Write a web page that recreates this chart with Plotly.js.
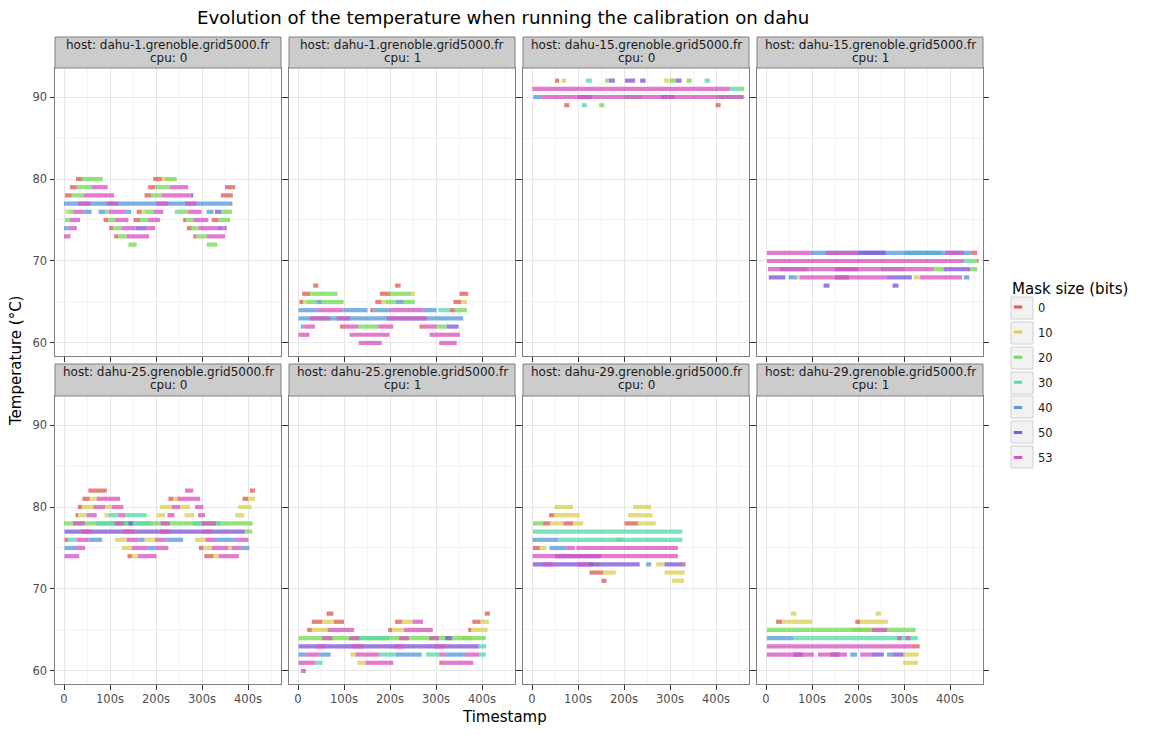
<!DOCTYPE html>
<html>
<head>
<meta charset="utf-8">
<script src="https://cdn.plot.ly/plotly-3.0.1.min.js"></script>
<style>html,body{margin:0;padding:0;background:#fff;}#chart{width:1156px;height:735px;}</style>
</head>
<body>
<div id="chart"></div>
<script>
// ---------------- DATA ----------------
const masks = [0, 10, 20, 30, 40, 50, 53];
const maskColors = ['#DB5F57', '#DBD057', '#75DB57', '#57DBAB', '#579BDB', '#8457DB', '#DB57C0'];
const hosts = ['dahu-1.grenoble.grid5000.fr', 'dahu-1.grenoble.grid5000.fr', 'dahu-15.grenoble.grid5000.fr', 'dahu-15.grenoble.grid5000.fr',
               'dahu-25.grenoble.grid5000.fr', 'dahu-25.grenoble.grid5000.fr', 'dahu-29.grenoble.grid5000.fr', 'dahu-29.grenoble.grid5000.fr'];
const cpus = [0, 1, 0, 1, 0, 1, 0, 1];
const xTickVals = [0, 100, 200, 300, 400];
const xTickText = ['0', '100s', '200s', '300s', '400s'];
const yTickVals = [60, 70, 80, 90];

// segments: [temperature, mask size, start timestamp, end timestamp]
const p1 = [
 [80,0,26,40],[80,20,38,84],[80,0,194,214],[80,10,212,222],[80,20,220,245],
 [79,0,13,28],[79,20,28,60],[79,53,60,95],[79,0,183,198],[79,20,198,230],[79,53,230,270],[79,0,350,372],
 [78,0,2,17],[78,20,17,42],[78,53,42,109],[78,0,175,190],[78,20,190,213],[78,53,213,275],[78,50,275,281],[78,0,341,367],
 [77,40,0,365],[77,53,30,57],[77,53,93,118],[77,53,201,227],[77,53,263,288],[77,10,362,367],
 [76,10,2,9],[76,20,9,20],[76,53,20,42],[76,40,42,60],[76,40,75,90],[76,20,90,97],[76,53,97,133],[76,40,133,146],
 [76,0,158,169],[76,10,169,176],[76,20,176,194],[76,53,194,216],[76,30,241,252],[76,20,252,270],[76,53,270,299],
 [76,40,310,325],[76,50,328,342],[76,20,342,365],
 [75,20,2,13],[75,53,13,35],[75,0,86,97],[75,20,97,111],[75,53,111,140],[75,0,151,165],[75,20,165,183],[75,53,183,209],
 [75,0,259,266],[75,20,266,281],[75,53,281,314],[75,0,321,336],[75,20,336,361],
 [74,40,0,9],[74,53,9,28],[74,0,98,107],[74,20,107,125],[74,53,125,155],[74,50,155,180],[74,53,180,198],
 [74,0,267,278],[74,20,278,292],[74,53,292,335],[74,50,335,345],[74,53,345,354],
 [73,53,0,14],[73,0,109,118],[73,20,118,136],[73,53,136,185],[73,0,281,288],[73,20,288,310],[73,53,310,350],
 [72,20,140,158],[72,20,310,333]
];
const p2 = [
 [67,0,33,44],[67,0,211,223],
 [66,0,9,26],[66,20,26,86],[66,0,178,200],[66,20,200,247],[66,10,247,254],[66,0,351,370],
 [65,0,3,12],[65,10,12,18],[65,20,18,40],[65,40,40,52],[65,20,52,99],[65,0,168,182],[65,10,182,190],[65,20,190,212],
 [65,40,212,230],[65,20,230,254],[65,0,338,355],[65,10,355,367],
 [64,40,1,41],[64,53,41,99],[64,40,99,151],[64,0,157,164],[64,40,164,200],[64,53,200,272],[64,40,272,301],
 [64,30,305,330],[64,0,330,341],[64,20,341,367],
 [63,40,1,359],[63,53,26,70],[63,53,84,113],[63,53,193,280],
 [62,40,6,12],[62,53,12,37],[62,0,91,102],[62,53,102,131],[62,20,131,174],[62,53,174,207],[62,0,264,272],
 [62,53,272,301],[62,20,301,323],[62,50,323,349],
 [61,53,1,25],[61,53,112,199],[61,53,286,352],
 [60,53,132,182],[60,53,307,345]
];
const p3 = [
 [92,0,50,59],[92,10,64,74],[92,30,117,130],[92,20,159,167],[92,50,167,180],[92,50,202,224],[92,50,235,247],
 [92,10,287,299],[92,20,300,312],[92,50,312,325],[92,20,336,347],[92,30,375,387],
 [91,53,1,430],[91,30,430,450],[91,20,450,461],
 [90,40,3,20],[90,53,20,460],[90,50,100,130],[90,30,200,240],[90,50,280,310],[90,30,400,445],[90,20,445,460],
 [89,0,70,81],[89,30,108,119],[89,20,146,157],[89,0,399,410]
];
const p4 = [
 [71,53,2,100],[71,40,100,445],[71,53,130,200],[71,50,200,260],[71,30,300,380],[71,53,390,430],[71,0,445,459],
 [70,53,2,430],[70,30,430,448],[70,20,448,458],[70,0,458,462],
 [69,53,4,365],[69,40,30,90],[69,50,150,200],[69,30,250,300],[69,20,365,386],[69,50,386,444],[69,20,444,459],
 [68,50,6,42],[68,40,49,67],[68,10,67,73],[68,53,73,263],[68,50,150,180],[68,50,263,317],[68,10,321,335],
 [68,53,335,426],[68,40,430,442],
 [67,50,125,138],[67,50,275,288]
];
const p5 = [
 [82,0,53,93],[82,53,263,281],[82,0,404,415],
 [81,0,40,56],[81,10,56,71],[81,53,71,122],[81,0,227,238],[81,10,238,246],[81,53,246,296],[81,0,388,400],[81,10,400,415],
 [80,0,30,39],[80,10,39,64],[80,53,64,89],[80,10,89,104],[80,53,104,129],[80,10,209,234],[80,53,234,252],
 [80,10,252,274],[80,53,285,303],[80,10,379,408],
 [79,0,25,31],[79,10,31,49],[79,53,49,71],[79,10,88,96],[79,30,96,118],[79,53,118,133],[79,30,133,180],
 [79,10,201,220],[79,53,225,240],[79,10,262,283],[79,53,291,307],[79,10,372,392],
 [78,20,0,410],[78,30,70,190],[78,53,20,45],[78,53,110,130],[78,50,140,150],[78,53,210,230],[78,30,280,340],[78,53,300,330],
 [77,50,1,393],[77,53,38,60],[77,53,129,151],[77,53,209,230],[77,53,303,321],[77,20,393,409],
 [76,0,1,9],[76,30,9,27],[76,53,27,53],[76,40,53,83],[76,10,111,136],[76,53,136,162],[76,40,162,175],[76,10,175,198],
 [76,53,198,220],[76,40,220,259],[76,10,285,307],[76,53,307,328],[76,40,328,372],[76,53,372,401],
 [75,40,1,24],[75,53,24,46],[75,10,125,147],[75,53,147,183],[75,40,183,198],[75,53,198,227],[75,0,293,303],
 [75,10,303,321],[75,53,321,357],[75,10,357,364],[75,53,364,385],[75,40,385,403],
 [74,53,1,33],[74,0,138,148],[74,10,148,161],[74,53,161,201],[74,0,305,325],[74,10,325,336],[74,53,336,380]
];
const p6 = [
 [67,0,62,77],[67,0,406,417],
 [66,0,30,53],[66,10,53,78],[66,0,78,100],[66,0,211,227],[66,10,227,249],[66,53,249,272],[66,0,379,397],[66,10,397,415],
 [65,0,20,30],[65,10,30,64],[65,53,64,122],[65,0,196,205],[65,10,205,230],[65,53,230,293],[65,0,370,377],[65,10,377,412],
 [64,20,1,408],[64,30,125,198],[64,53,53,75],[64,53,111,133],[64,53,220,241],[64,53,285,306],[64,50,320,335],[64,10,357,379],
 [63,50,1,393],[63,53,38,60],[63,53,118,143],[63,53,209,230],[63,53,296,321],[63,30,393,409],
 [62,40,1,17],[62,53,17,46],[62,40,46,71],[62,10,114,125],[62,53,125,176],[62,30,176,212],[62,40,212,269],
 [62,30,278,307],[62,53,307,321],[62,40,321,365],[62,53,365,394],[62,30,394,408],
 [61,53,1,38],[61,30,38,53],[61,10,129,147],[61,53,147,207],[61,0,307,318],[61,53,318,381],
 [60,53,6,17]
];
const p7 = [
 [80,10,49,89],[80,10,220,259],
 [79,0,37,49],[79,10,49,104],[79,10,209,262],
 [78,20,2,24],[78,0,24,40],[78,10,40,68],[78,0,68,89],[78,10,89,111],[78,0,201,230],[78,10,230,269],
 [77,30,2,327],
 [76,40,1,57],[76,30,57,327],[76,20,183,198],
 [75,0,2,17],[75,10,17,31],[75,40,38,75],[75,53,75,93],[75,53,96,317],
 [74,53,1,317],[74,50,50,150],
 [73,50,2,234],[73,53,24,46],[73,53,100,120],[73,0,122,133],[73,10,133,147],[73,40,248,259],[73,10,270,288],
 [73,50,288,328],[73,0,328,334],
 [72,0,125,155],[72,10,155,182],[72,10,288,332],
 [71,0,151,162],[71,10,304,330]
];
const p8 = [
 [67,10,54,66],[67,10,238,250],
 [66,0,22,35],[66,10,35,100],[66,0,194,205],[66,10,205,265],
 [65,20,2,325],[65,10,187,230],[65,53,230,263],
 [64,40,2,60],[64,30,60,330],[64,53,285,295],[64,53,303,314],
 [63,53,2,317],[63,0,317,334],
 [62,53,2,104],[62,50,60,80],[62,53,113,176],[62,50,140,160],[62,10,150,156],[62,40,183,198],[62,53,205,230],
 [62,50,230,256],[62,40,263,275],[62,50,275,299],[62,10,299,332],
 [61,10,298,330]
];
const panels = [p1, p2, p3, p4, p5, p6, p7, p8];

// ---------------- LAYOUT ----------------
const W = 1156, H = 735;
const colsPx = [[55, 281], [289, 515], [523, 749], [757, 983]];
const rowsPx = [[68, 356], [396, 684]];
const stripPx = [[37, 68], [364, 396]];
const px = v => v / W;
const py = v => 1 - v / H;
const FONT = 'DejaVu Sans';

const traces = [];
const layout = {
  width: W, height: H, autosize: false,
  margin: {l: 0, r: 0, t: 0, b: 0, pad: 0},
  paper_bgcolor: '#ffffff', plot_bgcolor: '#ffffff',
  font: {family: FONT, size: 11.5, color: '#4d4d4d'},
  showlegend: true,
  legend: {
    x: px(998), xanchor: 'left', y: py(292.5), yanchor: 'top',
    font: {family: FONT, size: 11.5, color: '#1a1a1a'},
    bgcolor: 'rgba(0,0,0,0)', traceorder: 'grouped', tracegroupgap: 6.1, itemwidth: 30
  },
  shapes: [], annotations: []
};

panels.forEach((segs, i) => {
  const row = Math.floor(i / 4), col = i % 4;
  const id = i === 0 ? '' : String(i + 1);
  layout['xaxis' + id] = {
    domain: [px(colsPx[col][0]), px(colsPx[col][1])], range: [-19.6, 471.7], anchor: 'y' + id,
    tickmode: 'array', tickvals: xTickVals, ticktext: xTickText, showticklabels: row === 1,
    ticks: 'outside', ticklen: 4.5, tickwidth: 1, tickcolor: '#333333',
    tickfont: {family: FONT, size: 11.5, color: '#4d4d4d'},
    showgrid: true, gridcolor: '#e6e6e6', gridwidth: 1, zeroline: false,
    minor: {tickmode: 'array', tickvals: [50, 150, 250, 350, 450], showgrid: true, gridcolor: '#f3f3f3', gridwidth: 1, ticks: ''},
    showline: true, linecolor: '#7f7f7f', linewidth: 1, mirror: true, fixedrange: true
  };
  layout['yaxis' + id] = {
    domain: [py(rowsPx[row][1]), py(rowsPx[row][0])], range: [58.41, 93.54], anchor: 'x' + id,
    tickmode: 'array', tickvals: yTickVals, showticklabels: col === 0,
    ticks: 'outside', ticklen: 4.5, tickwidth: 1, tickcolor: '#333333',
    tickfont: {family: FONT, size: 11.5, color: '#4d4d4d'},
    showgrid: true, gridcolor: '#e6e6e6', gridwidth: 1, zeroline: false,
    minor: {tickmode: 'array', tickvals: [65, 75, 85], showgrid: true, gridcolor: '#f3f3f3', gridwidth: 1, ticks: ''},
    showline: true, linecolor: '#7f7f7f', linewidth: 1, mirror: 'ticks', fixedrange: true
  };
  masks.forEach((m, k) => {
    const xs = [], ys = [];
    segs.filter(s => s[1] === m).forEach(s => {
      xs.push(s[2], s[3], null);
      ys.push(s[0], s[0], null);
    });
    if (!xs.length) return;
    traces.push({
      type: 'scatter', mode: 'lines', x: xs, y: ys,
      xaxis: 'x' + id, yaxis: 'y' + id,
      line: {color: maskColors[k], width: 4.2},
      opacity: 0.78, showlegend: false, hoverinfo: 'skip'
    });
  });
  // strip
  const sx0 = px(colsPx[col][0]), sx1 = px(colsPx[col][1]);
  layout.shapes.push({
    type: 'rect', xref: 'paper', yref: 'paper', x0: sx0, x1: sx1,
    y0: py(stripPx[row][1]), y1: py(stripPx[row][0]),
    fillcolor: '#cccccc', line: {color: '#7f7f7f', width: 1}, layer: 'above'
  });
  const cx = (sx0 + sx1) / 2;
  const top = stripPx[row][0];
  layout.annotations.push({
    xref: 'paper', yref: 'paper', x: cx, y: py(top + 8.3), xanchor: 'center', yanchor: 'middle',
    text: 'host: ' + hosts[i], showarrow: false, font: {family: FONT, size: 12, color: '#1a1a1a'}
  });
  layout.annotations.push({
    xref: 'paper', yref: 'paper', x: cx, y: py(top + 21.5), xanchor: 'center', yanchor: 'middle',
    text: 'cpu: ' + cpus[i], showarrow: false, font: {family: FONT, size: 12, color: '#1a1a1a'}
  });
});

// legend entries (one per mask size)
masks.forEach((m, k) => {
  traces.push({
    type: 'scatter', mode: 'markers', x: [null], y: [null], name: String(m),
    legendgroup: 'm' + k, showlegend: true, hoverinfo: 'skip',
    marker: {symbol: 'line-ew', size: 6, color: maskColors[k], line: {color: maskColors[k], width: 3}}
  });
});
// legend key backgrounds
const keyCentres = [308, 333, 358, 383, 407, 432, 457];
keyCentres.forEach(c => {
  layout.shapes.push({
    type: 'rect', xref: 'paper', yref: 'paper', x0: px(1011), x1: px(1033), y0: py(c + 11), y1: py(c - 11),
    fillcolor: '#f2f2f2', line: {color: '#d0d0d0', width: 1}, layer: 'above'
  });
});

// titles
layout.annotations.push({
  xref: 'paper', yref: 'paper', x: px(503), y: py(18), xanchor: 'center', yanchor: 'middle', showarrow: false,
  text: 'Evolution of the temperature when running the calibration on dahu',
  font: {family: FONT, size: 18.2, color: '#000000'}
});
layout.annotations.push({
  xref: 'paper', yref: 'paper', x: px(504), y: py(717), xanchor: 'center', yanchor: 'middle', showarrow: false,
  text: 'Timestamp', font: {family: FONT, size: 15, color: '#000000'}
});
layout.annotations.push({
  xref: 'paper', yref: 'paper', x: px(16), y: py(361), xanchor: 'center', yanchor: 'middle', showarrow: false,
  text: 'Temperature (°C)', textangle: -90, font: {family: FONT, size: 15, color: '#000000'}
});
layout.annotations.push({
  xref: 'paper', yref: 'paper', x: px(1010), y: py(289), xanchor: 'left', yanchor: 'middle', showarrow: false,
  text: 'Mask size (bits)', font: {family: FONT, size: 15, color: '#000000'}
});

Plotly.newPlot('chart', traces, layout, {displayModeBar: false, staticPlot: true});
</script>
</body>
</html>
